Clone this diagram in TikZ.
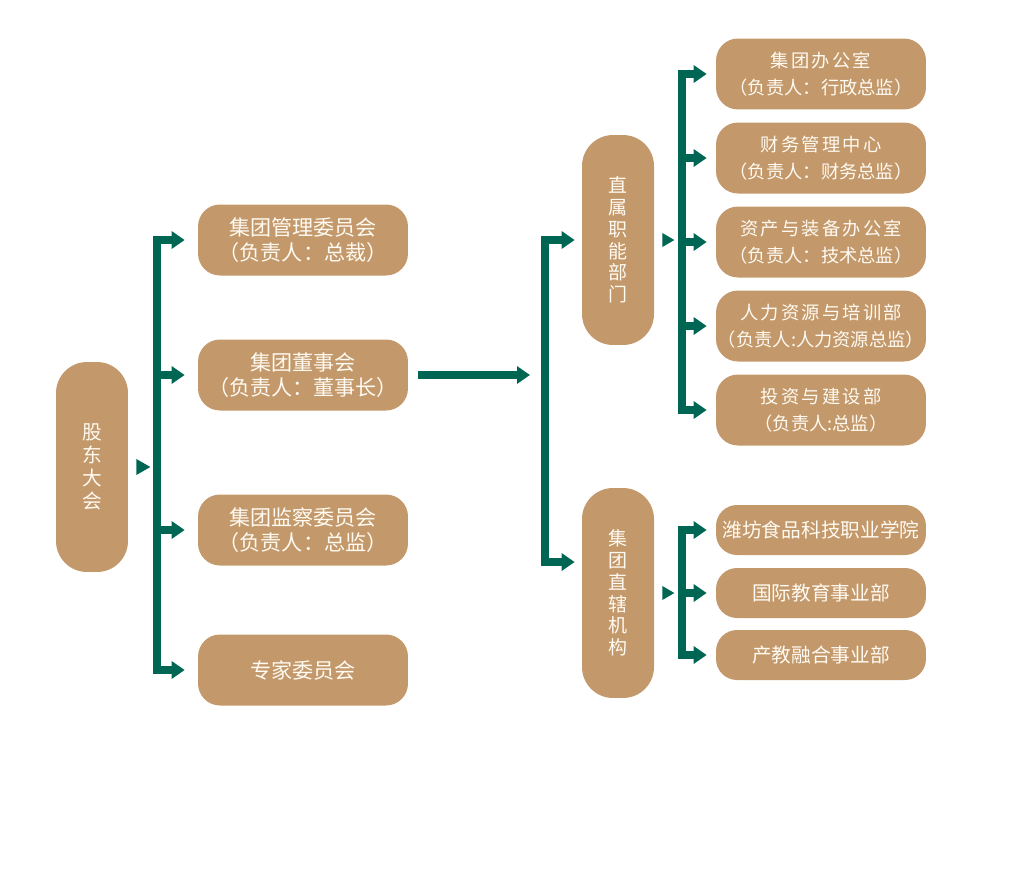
\documentclass[tikz,border=0pt]{standalone}
\usepackage{fontspec}
\setmainfont{Noto Sans CJK SC}
\usetikzlibrary{arrows.meta}
\definecolor{boxtan}{RGB}{195,153,107}
\definecolor{pine}{RGB}{0,102,84}
\definecolor{cream}{RGB}{255,250,242}
\begin{document}
\begin{tikzpicture}[x=0.02cm,y=-0.02cm]
	\tikzstyle{wide} = [rectangle,rounded corners=0.44cm,fill=boxtan,text=cream,align=center,inner sep=0pt,minimum width=4.2cm,minimum height=1.42cm,font=\fontsize{12}{14.5}\selectfont]
	\tikzstyle{side} = [wide,font=\fontsize{10.4}{15.5}\selectfont]
	\tikzstyle{flat} = [wide,minimum height=1.0cm,rounded corners=0.42cm,font=\fontsize{11.2}{13}\selectfont]
	\tikzstyle{tall} = [wide,minimum width=1.44cm,minimum height=4.2cm,rounded corners=0.62cm,font=\fontsize{10.8}{12.4}\selectfont]
	\tikzstyle{bus}  = [draw=pine,line width=4.4pt,line cap=rect]
	\tikzstyle{feed} = [draw=pine,line width=4.4pt,-{Triangle[length=0.26cm,width=0.34cm]}]
	\tikzstyle{pointer} = [fill=pine]

	\useasboundingbox (0,0) rectangle (1024,890);

	\node[tall,font=\fontsize{11.2}{13}\selectfont] (root) at (92,467) {股\\东\\大\\会};

	\node[wide] (mgmt)   at (303,240) {集团管理委员会\\（负责人：总裁）};
	\node[wide] (board)  at (303,375) {集团董事会\\（负责人：董事长）};
	\node[wide] (audit)  at (303,530) {集团监察委员会\\（负责人：总监）};
	\node[wide] (expert) at (303,670) {专家委员会};

	\node[tall] (func)   at (618,240) {直\\属\\职\\能\\部\\门};
	\node[tall] (direct) at (618,593) {集\\团\\直\\辖\\机\\构};

	\node[side] (office)  at (821,74)  {\addfontfeature{LetterSpace=12}集团办公室\\（负责人：行政总监）};
	\node[side] (finance) at (821,158) {\addfontfeature{LetterSpace=12}财务管理中心\\（负责人：财务总监）};
	\node[side] (assets)  at (821,242) {\addfontfeature{LetterSpace=12}资产与装备办公室\\（负责人：技术总监）};
	\node[side] (hr)      at (821,326) {\addfontfeature{LetterSpace=12}人力资源与培训部\\（负责人:人力资源总监）};
	\node[side] (invest)  at (821,410) {\addfontfeature{LetterSpace=12}投资与建设部\\（负责人:总监）};

	\node[flat] (college) at (821,530) {潍坊食品科技职业学院};
	\node[flat] (intl)    at (821,593) {国际教育事业部};
	\node[flat] (fusion)  at (821,655) {产教融合事业部};

	\coordinate (busL) at (157,0);
	\coordinate (busM) at (545,0);
	\coordinate (busR) at (682,0);
	\coordinate (low)  at ([yshift=0.62cm]direct.west);

	\fill[pointer] (root.east) ++(8,-8) -- ++(14,8) -- ++(-14,8) -- cycle;
	\fill[pointer] (func.east) ++(8,-7) -- ++(12,7) -- ++(-12,7) -- cycle;
	\fill[pointer] (direct.east) ++(8,-7) -- ++(12,7) -- ++(-12,7) -- cycle;

	\draw[bus] (busL |- mgmt.west) -- (busL |- expert.west);
	\foreach \n in {mgmt,board,audit,expert}
		\draw[feed,shorten >=0.26cm] (busL |- \n.west) -- (\n.west);

	\draw[feed,shorten <=0.2cm,shorten >=0.3cm] (board.east) -- (busM |- board.east);

	\draw[bus] (busM |- func.west) -- (busM |- low);
	\draw[feed,shorten >=0.14cm] (busM |- func.west) -- (func.west);
	\draw[feed,shorten >=0.14cm] (busM |- low) -- (low);

	\draw[bus] (busR |- office.west) -- (busR |- invest.west);
	\foreach \n in {office,finance,assets,hr,invest}
		\draw[feed,shorten >=0.18cm] (busR |- \n.west) -- (\n.west);

	\draw[bus] (busR |- college.west) -- (busR |- fusion.west);
	\foreach \n in {college,intl,fusion}
		\draw[feed,shorten >=0.18cm] (busR |- \n.west) -- (\n.west);
\end{tikzpicture}
\end{document}
